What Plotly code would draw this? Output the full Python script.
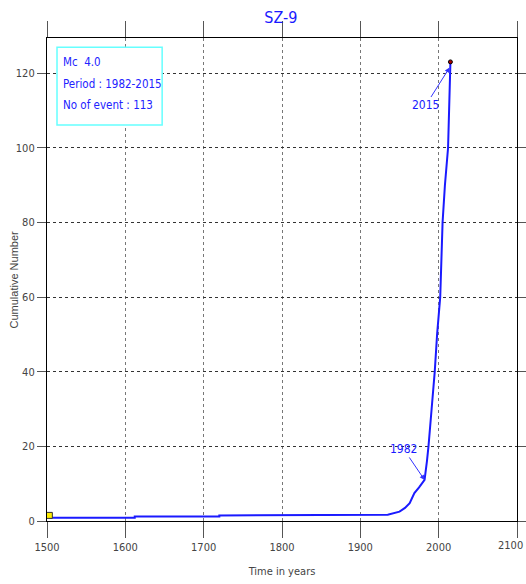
import plotly.graph_objects as go

# Cumulative curve
years = [1503, 1612, 1612, 1720, 1720, 1829, 1829, 1935, 1950, 1957, 1963, 1969, 1975, 1982,
         1985, 1987, 1991, 1995, 1998, 2002, 2005, 2008, 2012, 2014, 2015]
cumulative = [0.9, 0.9, 1.2, 1.2, 1.5, 1.5, 1.7, 1.7, 2.5, 3.5, 4.8, 7.5, 9.0, 11.0,
              16, 20, 30, 40, 50, 60, 80, 90, 100, 113, 123]

start_marker = ([1503], [1.5])
end_marker = ([2015], [123])

title_text = "SZ-9"
info_lines = ["Mc  4.0", "Period : 1982-2015", "No of event : 113"]
x_ticks = [1500, 1600, 1700, 1800, 1900, 2000, 2100]
y_ticks = [0, 20, 40, 60, 80, 100, 120]

font_family = "DejaVu Sans Condensed, Liberation Sans Narrow, Arial, sans-serif"
blue_text = "#2222ff"

fig = go.Figure()
fig.add_trace(go.Scatter(x=years, y=cumulative, mode="lines",
                         line=dict(color="#1a1aff", width=2), showlegend=False))
fig.add_trace(go.Scatter(x=start_marker[0], y=start_marker[1], mode="markers",
                         marker=dict(symbol="square", size=6, color="#ffee00",
                                     line=dict(color="#333", width=1)), showlegend=False))
fig.add_trace(go.Scatter(x=end_marker[0], y=end_marker[1], mode="markers",
                         marker=dict(symbol="circle", size=4, color="#aa0000",
                                     line=dict(color="#000", width=1)), showlegend=False))

fig.add_annotation(x=1982, y=11, ax=-21, ay=-31, xref="x", yref="y",
                   text="1982", showarrow=True, arrowhead=2, arrowsize=1, arrowwidth=1,
                   arrowcolor="#3333ff", font=dict(family=font_family, size=12, color="#1a1aff"))
fig.add_annotation(x=2014, y=121.5, ax=-24, ay=38, xref="x", yref="y",
                   text="2015", showarrow=True, arrowhead=2, arrowsize=1, arrowwidth=1,
                   arrowcolor="#3333ff", font=dict(family=font_family, size=12, color="#1a1aff"))

# info box
fig.add_shape(type="rect", xref="paper", yref="paper", x0=0.0213, x1=0.245, y0=0.820, y1=0.981,
              line=dict(color="#66ffff", width=1.5), fillcolor="white", layer="above")
for line_text, ypos in zip(info_lines, [0.950, 0.905, 0.861]):
    fig.add_annotation(x=0.0298, y=ypos, xref="paper", yref="paper", xanchor="left",
                       yanchor="middle", text=line_text, showarrow=False,
                       font=dict(family=font_family, size=11.5, color=blue_text))

# 2100 tick label at the right edge (kept inside the page)
fig.add_annotation(x=2100, y=0, xref="x", yref="paper", xanchor="right", yanchor="top",
                   xshift=8, yshift=-16, text="2100", showarrow=False,
                   font=dict(family=font_family, size=11, color="#444"))

# y-axis title
fig.add_annotation(x=(13 - 47) / 470, y=0.5, xref="paper", yref="paper", text="Cumulative Number",
                   textangle=-90, showarrow=False, xanchor="center", yanchor="middle",
                   font=dict(family="Liberation Sans, Arial, sans-serif", size=11, color="#444"))

axis_common = dict(showline=True, linecolor="black", linewidth=1.2, mirror="allticks",
                   ticks="outside", tickcolor="#555", showgrid=True, gridwidth=1,
                   zeroline=False, automargin=False,
                   tickfont=dict(family=font_family, size=11, color="#444"))

fig.update_layout(
    width=526, height=584,
    margin=dict(l=47, r=9, t=38, b=63),
    paper_bgcolor="white", plot_bgcolor="white",
    title=dict(text=title_text, x=0.534, xanchor="center", y=0.971, yanchor="middle",
               font=dict(family=font_family, size=16, color="#1a1aff")),
    xaxis=dict(range=[1500, 2100], tickvals=x_ticks,
               ticktext=["1500", "1600", "1700", "1800", "1900", "2000", ""], ticklen=16,
               gridcolor="#777", griddash="3px,3px",
               title=dict(text="Time in years", standoff=14,
                          font=dict(family=font_family, size=11, color="#444")),
               **axis_common),
    yaxis=dict(range=[0, 129.4], tickvals=y_ticks, ticklen=9,
               gridcolor="#333", griddash="dot", **axis_common),
)

fig.write_html("out.html")
